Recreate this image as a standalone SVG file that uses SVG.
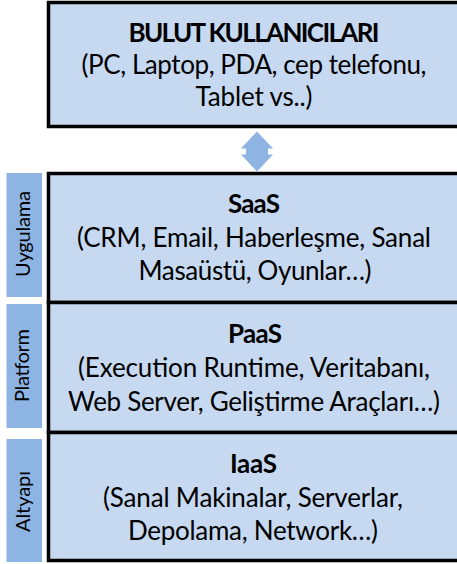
<svg xmlns="http://www.w3.org/2000/svg" width="457" height="564" viewBox="0 0 457 564">
<style>
.box{fill:#C6D9F1;stroke:#000;stroke-width:3.5}
.side{fill:#8DB4E2}
.t{font-family:Lato,"Open Sans","Liberation Sans",sans-serif;font-size:26px;fill:#000;text-anchor:middle}
.b{font-weight:bold}
.s{font-family:Lato,"Open Sans","Liberation Sans",sans-serif;font-size:20px;fill:#000;text-anchor:middle}
</style>
<rect width="457" height="564" fill="#fff"/>
<g id="users">
<rect class="box" x="48.5" y="2.5" width="411" height="124"/>
<text class="t b" x="254" y="41.5" textLength="251">BULUT KULLANICILARI</text>
<text class="t" x="254" y="74" textLength="345">(PC, Laptop, PDA, cep telefonu,</text>
<text class="t" x="254" y="106" textLength="117">Tablet vs..)</text>
</g>
<g id="connectors">
<path d="M257 131.5 L273 148.5 L268 148.5 L268 154.5 L273 154.5 L257 171.5 L241 154.5 L246 154.5 L246 148.5 L241 148.5 Z" fill="#8DB4E2"/>
</g>
<g id="saas">
<rect class="box" x="48.5" y="173.5" width="411" height="129"/>
<text class="t b" x="254" y="213" textLength="52">SaaS</text>
<text class="t" x="254" y="247" textLength="354">(CRM, Email, Haberleşme, Sanal</text>
<text class="t" x="255" y="280" textLength="233">Masaüstü, Oyunlar…)</text>
</g>
<g id="paas">
<rect class="box" x="48.5" y="302.5" width="411" height="130"/>
<text class="t b" x="255" y="343" textLength="54">PaaS</text>
<text class="t" x="254" y="377" textLength="352">(Execution Runtime, Veritabanı,</text>
<text class="t" x="254" y="411" textLength="372">Web Server, Geliştirme Araçları…)</text>
</g>
<g id="iaas">
<rect class="box" x="48.5" y="432.5" width="411" height="128"/>
<text class="t b" x="253.5" y="473" textLength="47">IaaS</text>
<text class="t" x="253" y="507" textLength="300">(Sanal Makinalar, Serverlar,</text>
<text class="t" x="253" y="540" textLength="250">Depolama, Network…)</text>
</g>
<g id="label-uygulama">
<rect class="side" x="6.5" y="173" width="35.5" height="124"/>
<text class="s" transform="translate(29.5,234) rotate(-90)" textLength="86">Uygulama</text>
</g>
<g id="label-platform">
<rect class="side" x="6.5" y="304" width="35.5" height="124"/>
<text class="s" transform="translate(29,365.5) rotate(-90)" textLength="73">Platform</text>
</g>
<g id="label-altyapi">
<rect class="side" x="6.5" y="439" width="35.5" height="123"/>
<text class="s" transform="translate(29.5,501.5) rotate(-90)" textLength="61">Altyapı</text>
</g>
</svg>
